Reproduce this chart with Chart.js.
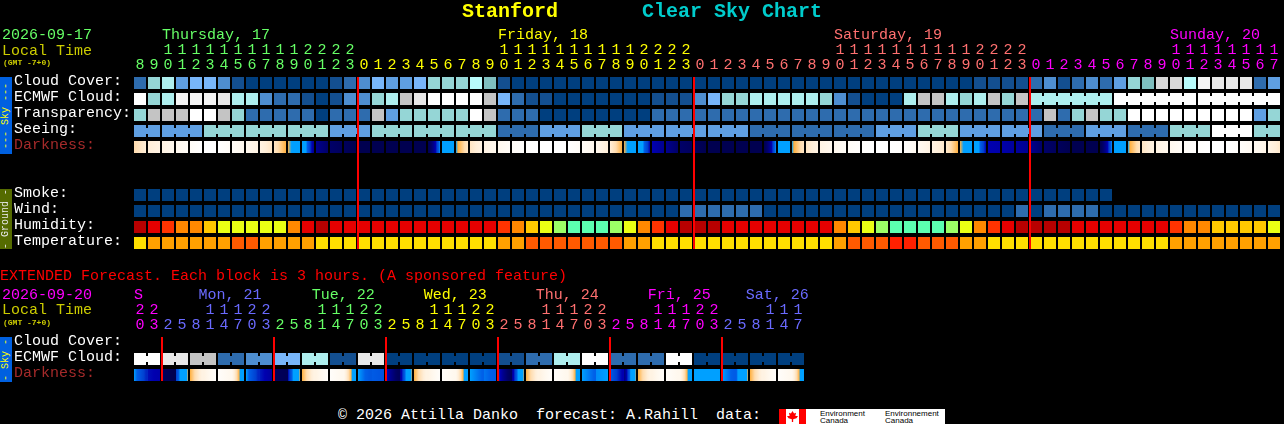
<!DOCTYPE html>
<html lang="en">
<head>
    <meta charset="UTF-8">
    <title>Stanford Clear Sky Chart</title>
    <script src="https://cdn.jsdelivr.net/npm/chart.js"></script>
    <style>
        body { margin: 0; background: #000; overflow: hidden; }
        #page { position: relative; width: 1284px; height: 424px; overflow: hidden; font-family: "Liberation Mono", monospace; font-size: 15px; }
        canvas { position: absolute; left: 0; }
        .txt { position: absolute; white-space: pre; line-height: 16px; }
        .title { font-size: 20px; font-weight: bold; line-height: 24px; }
        .gmt { font-size: 8px; font-weight: bold; color: #cccc00; line-height: 10px; }
        .side { position: absolute; left: 0; width: 12px; writing-mode: vertical-rl; transform: rotate(180deg); text-align: center; font-size: 10px; line-height: 12px; white-space: pre; }
        #logo { position: absolute; left: 779px; top: 409px; width: 166px; height: 15px; background: #fff; color: #000; font-family: "Liberation Sans", sans-serif; font-size: 8px; line-height: 7px; }
        #logo div { position: absolute; }
    </style>
</head>
<body>
<div id="page">
    <canvas id="mainChart" width="1284" height="263" style="top:0"></canvas>
    <canvas id="extChart" width="1284" height="132" style="top:263px"></canvas>

    <div class="txt title" style="left:462px;top:0;color:#ffff00">Stanford</div>
    <div class="txt title" style="left:642px;top:0;color:#00cccc">Clear Sky Chart</div>

    <div class="txt" style="left:2px;top:28px;color:#66ff66">2026-09-17</div>
    <div class="txt" style="left:2px;top:44px;color:#cccc00">Local Time</div>
    <div class="txt gmt" style="left:3px;top:58px">(GMT -7+0)</div>

    <div class="side" style="top:77px;height:77px;background:#0060e0;color:#ffff00">--- Sky ---</div>
    <div class="side" style="top:189px;height:60px;background:#556b00;color:#e8e8e8">- Ground -</div>

    <div class="txt" style="left:0;top:269px;color:#ff0000">EXTENDED Forecast. Each block is 3 hours. (A sponsored feature)</div>
    <div class="txt" style="left:2px;top:288px;color:#ff00ff">2026-09-20</div>
    <div class="txt" style="left:2px;top:303px;color:#cccc00">Local Time</div>
    <div class="txt gmt" style="left:3px;top:318px">(GMT -7+0)</div>
    <div class="side" style="top:337px;height:45px;background:#0060e0;color:#ffff00">- Sky -</div>

    <div class="txt" style="left:338px;top:408px;color:#ffffff">© 2026 Attilla Danko  forecast: A.Rahill  data:</div>
    <div id="logo">
        <div style="left:0;top:0;width:7px;height:15px;background:#f00"></div>
        <div style="left:20px;top:0;width:7px;height:15px;background:#f00"></div>
        <div style="left:8px;top:2px;width:11px;height:11px;background:#f00;clip-path:polygon(50% 0,64% 22%,82% 16%,76% 46%,100% 46%,86% 66%,56% 76%,56% 100%,44% 100%,44% 76%,14% 66%,0 46%,24% 46%,18% 16%,36% 22%)"></div>
        <div style="left:41px;top:1px">Environment</div>
        <div style="left:41px;top:8px">Canada</div>
        <div style="left:106px;top:1px">Environnement</div>
        <div style="left:106px;top:8px">Canada</div>
    </div>
</div>

<script>
    // Hour labels of each column
    const mainHours = [8,9,10,11,12,13,14,15,16,17,18,19,20,21,22,23,
        0,1,2,3,4,5,6,7,8,9,10,11,12,13,14,15,16,17,18,19,20,21,22,23,
        0,1,2,3,4,5,6,7,8,9,10,11,12,13,14,15,16,17,18,19,20,21,22,23,
        0,1,2,3,4,5,6,7,8,9,10,11,12,13,14,15,16,17];
    const extHours = [20,23,
        2,5,8,11,14,17,20,23, 2,5,8,11,14,17,20,23, 2,5,8,11,14,17,20,23,
        2,5,8,11,14,17,20,23, 2,5,8,11,14,17,20,23, 2,5,8,11,14,17];

    // Day headers: first column of the day, column of the name, text
    const mainDays = ['Thursday, 17', 'Friday, 18', 'Saturday, 19', 'Sunday, 20'];
    const mainDayStarts = [0, 16, 40, 64];
    const mainDayNameCols = [2, 26, 50, 74];
    const extDays = ['S', 'Mon, 21', 'Tue, 22', 'Wed, 23', 'Thu, 24', 'Fri, 25', 'Sat, 26'];
    const extDayStarts = [0, 2, 10, 18, 26, 34, 42];
    const extDayNameCols = [0, 4.6, 12.7, 20.7, 28.7, 36.7, 43.7];
    const mainDayColors = ['#66ff66', '#ffff00', '#ff7070', '#ff00ff'];
    const extDayColors = ['#ff00ff', '#6a6aff', '#66ff66', '#ffff00', '#ff7070', '#ff00ff', '#6a6aff'];

    // Sky rows, levels from clear (0) to overcast (14)
    const cloudCover = [2,6,7,4,5,5,3,1,0,0,0,0,0,0,1,2,3,5,4,4,5,
        6,6,6,8,9,1,0,0,0,0,0,0,0,0,0,0,0,0,0,0,0,0,0,0,0,0,0,0,0,0,0,
        0,0,0,0,0,0,0,0,1,1,1,1,2,3,1,2,3,2,4,6,9,11,11,8,13,12,12,12,2,4];
    const ecmwfCloud = [14,6,7,13,13,13,12,7,7,3,2,2,1,0,1,3,3,6,7,10,12,
        14,14,14,14,10,5,2,1,1,0,0,0,0,0,0,0,1,1,1,3,5,6,6,7,7,7,7,7,6,3,1,
        0,0,0,7,10,10,7,6,7,10,6,10,7,7,7,7,7,7,14,14,14,14,14,14,14,14,14,14,14,14];
    const transparency = [6,10,10,10,14,14,10,6,2,2,2,2,2,0,2,2,2,10,4,6,6,
        6,6,6,14,10,2,2,2,0,0,0,0,0,0,0,0,2,2,2,2,2,2,2,2,2,2,2,2,2,2,2,
        2,2,2,2,2,2,2,2,2,2,2,2,2,10,2,6,10,6,6,14,14,14,14,14,14,14,14,14,4,6];
    const seeing = [4,4,4,4,4,6,6,6,6,6,6,6,6,6,4,4,4,6,6,6,6,
        6,6,6,6,6,2,2,2,4,4,4,6,6,6,4,4,4,4,4,4,4,4,4,2,2,2,2,2,2,2,2,
        2,4,4,4,6,6,6,4,4,4,4,4,4,2,2,2,4,4,4,2,2,2,6,6,6,14,14,14,6,6];
    const seeingBlockStarts = [2,5,8,11,14,17,20,23,26,29,32,35,38,41,44,47,50,53,56,59,62,65,68,71,74,77,80];
    const ecmwfBlockStarts = [64,70,76];

    // Darkness at the cell edges, 0 is full daylight, 10 is a dark moonless sky
    const mainDarkness = [3,2,1.5,1,.5,0,0,.5,1,1.5,2.5,4,5,
        8,9,9.5,10,10,10,10,10,10,6,
        4.3,2.5,1.5,1,.5,.2,0,0,0,.5,1,
        2,4,5,7.5,8,9,9.5,10,10,10,10,10,
        6,4.3,2.5,1.5,1,.5,.2,
        0,0,.2,.8,1.5,2.3,4,
        5,7.5,7.6,7.8,8,9,9.5,10,10,10,
        6,4.3,2.5,1.5,1,.5,.2,0,0,.3,.8,1.3,2.3];

    // Ground rows
    const smoke = new Array(70).fill(0);
    const wind = [0,0,0,0,0,0,0,0,0,0,0,0,0,0,0,0,0,0,0,0,0,0,0,0,0,0,0,0,0,0,0,0,0,0,0,0,0,0,0,
        2,2,2,2,2,2,0,0,0,0,0,0,0,0,0,0,0,0,0,0,0,0,0,0,2,0,2,2,2,2,0,0,0,0,0,0,0,0,0,0,0,0,0];
    const humidity = [0,1,2,3,3,4,5,5,5,5,5,3,1,0,1,1,1,1,1,1,1,
        1,1,1,1,1,2,3,4,5,6,7,7,7,6,5,3,2,1,0,0,0,1,1,1,1,1,1,1,1,3,4,
        5,6,7,7,7,7,6,5,3,2,1,0,0,0,0,1,1,1,1,1,1,1,2,3,3,4,4,4,4,5];
    const temperature = [0,1,1,1,1,1,1,2,2,1,1,1,1,0,0,0,0,0,0,0,0,
        0,0,0,0,0,1,1,2,2,2,2,2,2,2,1,1,0,0,0,0,0,0,0,0,0,0,0,0,0,1,2,
        2,2,3,3,2,2,2,1,1,0,0,0,0,0,0,0,0,0,0,0,0,0,1,1,1,1,1,1,1,1];

    // Extended forecast, 3 hour cells
    const extEcmwf = [14,14,12,12,10,10,2,2,3,3,5,5,7,7,1,1,12,12,0,0,0,0,0,0,
        0,0,1,1,2,2,7,7,14,14,2,2,2,2,14,14,0,0,0,0,0,0,0,0];
    const extDarkStart = [6,7.4,9.5,7,4,1.5,.3,1, 6,7.3,9.5,7.5,4,1.5,.3,1, 6,6.4,7.2,8,4,1.5,.3,1,
        6,6.2,7,8,4,1.5,.3,1, 6,6.1,6.4,8.5,4,1.5,.3,1, 6,5.5,6,6.4,4,1.5,.3,1];
    const extDarkEnd = [7.2,7.6,10,4,1.5,.3,1,6, 7.2,7.8,9.8,4,1.5,.3,1,6, 6.5,6.6,9.5,4,1.5,.3,1,6,
        6.3,6.4,9.5,4,1.5,.3,1,6, 6.3,6,7.5,4,1.5,.3,1,6, 5.5,6,6.4,4,1.5,.3,1,6];

    const mainRows = ['Cloud Cover:', 'ECMWF Cloud:', 'Transparency:', 'Seeing:', 'Darkness:', ' ', '  ',
        'Smoke:', 'Wind:', 'Humidity:', 'Temperature:'];
    const extRows = ['Cloud Cover:', 'ECMWF Cloud:', 'Darkness:'];

    // Colour tables
    const skyColors = ['#003f7f','#134f90','#2e6cae','#4e8ed0','#5f9fe2','#78b6fa','#95d6d6','#aeeeee',
        '#b8fbfb','#7fbfbf','#c4c4c4','#d8d8d8','#e8e8e8','#f4f4f4','#ffffff'];
    const humidityColors = ['#b80000','#e60000','#ff3300','#ff8800','#ffc800','#eaff14','#9cff66','#5cffb0'];
    const temperatureColors = ['#ffdf00','#ffa000','#ff5a00','#ff2000'];
    const darkLevels = [0,1,2,3,4,4.3,6,6.3,7,7.5,8,9,10];
    const darkColors = ['#ffffff','#fff8ee','#ffeed8','#ffdcae','#ffb040','#00a0ff','#00a0ff','#0060e8','#0040d0','#0000b0','#000090','#000068','#000050'];

    const cellHalf = 6 / 14;

    function darkColorAt(level) {
        let k = 0;
        while (k < darkLevels.length - 2 && level > darkLevels[k + 1]) k++;
        const t = (level - darkLevels[k]) / (darkLevels[k + 1] - darkLevels[k]);
        const a = parseInt(darkColors[k].slice(1), 16), b = parseInt(darkColors[k + 1].slice(1), 16);
        const mix = s => Math.round(((a >> s) & 255) * (1 - t) + ((b >> s) & 255) * t);
        return `rgb(${mix(16)},${mix(8)},${mix(0)})`;
    }

    // Horizontal gradient for a darkness cell, runs through the table stops it crosses
    function darknessFill(starts, ends) {
        return ctx => {
            const i = ctx.dataIndex;
            if (i === undefined) return '#000';
            const x = ctx.chart.scales.x;
            const x0 = x ? x.getPixelForValue(i - cellHalf) : NaN;
            const x1 = x ? x.getPixelForValue(i + cellHalf) : NaN;
            // scales are not laid out yet on the first pass
            if (!isFinite(x0) || !isFinite(x1)) return '#000';
            const a = starts[i], b = ends[i];
            const g = ctx.chart.ctx.createLinearGradient(x0, 0, x1, 0);
            g.addColorStop(0, darkColorAt(a));
            if (a !== b) {
                darkLevels.forEach(l => {
                    if (l > Math.min(a, b) && l < Math.max(a, b)) g.addColorStop((l - a) / (b - a), darkColorAt(l));
                });
            }
            g.addColorStop(1, darkColorAt(b));
            return g;
        };
    }

    function cellRow(label, values, fill) {
        return {
            data: values.map((v, i) => ({ x: [i - cellHalf, i + cellHalf], y: label })),
            backgroundColor: fill,
            barThickness: 12,
            inflateAmount: 0,
            grouped: false
        };
    }

    // Narrow pieces that tie the cells of one forecast block together
    function joinRow(label, count, joined, fill, thickness) {
        const pieces = [], colors = [];
        for (let i = 0; i < count - 1; i++) {
            if (joined(i)) {
                pieces.push({ x: [i + cellHalf, i + 1 - cellHalf], y: label });
                colors.push(fill(i));
            }
        }
        return { data: pieces, backgroundColor: colors, barThickness: thickness, inflateAmount: 0, grouped: false };
    }

    const skyFill = values => values.map(v => skyColors[v]);

    const dayPlugin = {
        id: 'dayHeaders',
        afterDraw(chart, args, opts) {
            const x = chart.scales.x, ctx = chart.ctx, area = chart.chartArea;
            ctx.save();
            ctx.fillStyle = '#ff0000';
            opts.starts.slice(opts.skipFirst).forEach(s => {
                ctx.fillRect(Math.round(x.getPixelForValue(s - cellHalf)) - 1, area.top + 2, 2, area.bottom - area.top - 4);
            });
            ctx.font = '15px "Liberation Mono"';
            ctx.textBaseline = 'alphabetic';
            opts.names.forEach((name, k) => {
                ctx.fillStyle = opts.colors[k];
                ctx.fillText(name, x.getPixelForValue(opts.nameCols[k] - cellHalf), opts.nameY);
            });
            ctx.restore();
        }
    };

    function makeChart(id, rows, hours, dayStarts, dayColors, datasets, layout, dayOpts) {
        const colorOf = i => {
            let k = 0;
            while (k + 1 < dayStarts.length && dayStarts[k + 1] <= i) k++;
            return dayColors[k];
        };
        return new Chart(document.getElementById(id), {
            type: 'bar',
            data: { labels: rows, datasets: datasets },
            plugins: [dayPlugin],
            options: {
                indexAxis: 'y',
                responsive: false,
                animation: false,
                events: [],
                layout: { padding: layout.padding },
                plugins: {
                    legend: { display: false },
                    tooltip: { enabled: false },
                    title: { display: false },
                    dayHeaders: dayOpts
                },
                scales: {
                    x: {
                        type: 'linear',
                        position: 'top',
                        min: -0.5,
                        max: hours.length - 0.5,
                        grid: { display: false },
                        border: { display: false },
                        afterBuildTicks: s => { s.ticks = hours.map((h, i) => ({ value: i })); },
                        afterFit: s => { s.height = layout.axisHeight; },
                        ticks: {
                            autoSkip: false,
                            maxRotation: 0,
                            padding: -6,
                            font: { family: '"Liberation Mono"', size: 15, lineHeight: 1 },
                            color: ctx => colorOf(ctx.index),
                            callback: (value, index) => {
                                const h = hours[index];
                                return h >= 10 ? [String(Math.floor(h / 10)), String(h % 10)] : [' ', String(h)];
                            }
                        }
                    },
                    y: {
                        type: 'category',
                        grid: { display: false },
                        border: { display: false },
                        afterFit: s => { s.width = 119; },
                        ticks: {
                            autoSkip: false,
                            crossAlign: 'far',
                            labelOffset: -2,
                            font: { family: '"Liberation Mono"', size: 15 },
                            color: ctx => rows[ctx.index] === 'Darkness:' ? '#a52a2a' : '#ffffff'
                        }
                    }
                }
            }
        });
    }

    const seeingStartSet = new Set(seeingBlockStarts);
    const ecmwfStartSet = new Set(ecmwfBlockStarts);

    makeChart('mainChart', mainRows, mainHours, mainDayStarts, mainDayColors, [
        cellRow('Cloud Cover:', cloudCover, skyFill(cloudCover)),
        cellRow('ECMWF Cloud:', ecmwfCloud, skyFill(ecmwfCloud)),
        joinRow('ECMWF Cloud:', ecmwfCloud.length, i => i >= 64 && !ecmwfStartSet.has(i + 1), i => skyColors[ecmwfCloud[i]], 6),
        cellRow('Transparency:', transparency, skyFill(transparency)),
        cellRow('Seeing:', seeing, skyFill(seeing)),
        joinRow('Seeing:', seeing.length, i => !seeingStartSet.has(i + 1), i => skyColors[seeing[i]], 6),
        cellRow('Darkness:', mainDarkness.slice(1), darknessFill(mainDarkness, mainDarkness.slice(1))),
        cellRow('Smoke:', smoke, skyFill(smoke)),
        cellRow('Wind:', wind, skyFill(wind)),
        cellRow('Humidity:', humidity, humidity.map(v => humidityColors[v])),
        cellRow('Temperature:', temperature, temperature.map(v => temperatureColors[v]))
    ], { padding: { left: 14, right: 3, top: 0, bottom: 0 }, axisHeight: 75 }, {
        starts: mainDayStarts, skipFirst: 1, names: mainDays, nameCols: mainDayNameCols, colors: mainDayColors, nameY: 39
    });

    makeChart('extChart', extRows, extHours, extDayStarts, extDayColors, [
        cellRow('ECMWF Cloud:', extEcmwf, skyFill(extEcmwf)),
        joinRow('ECMWF Cloud:', extEcmwf.length, i => i % 2 === 0, i => skyColors[extEcmwf[i]], 6),
        cellRow('Darkness:', extDarkEnd, darknessFill(extDarkStart, extDarkEnd)),
        joinRow('Darkness:', extDarkEnd.length, i => i % 2 === 0, i => darkColorAt(extDarkEnd[i]), 12)
    ], { padding: { left: 14, right: 479, top: 0, bottom: 0 }, axisHeight: 72 }, {
        starts: [2, 10, 18, 26, 34, 42], skipFirst: 0, names: extDays, nameCols: extDayNameCols, colors: extDayColors, nameY: 36
    });
</script>
</body>
</html>
